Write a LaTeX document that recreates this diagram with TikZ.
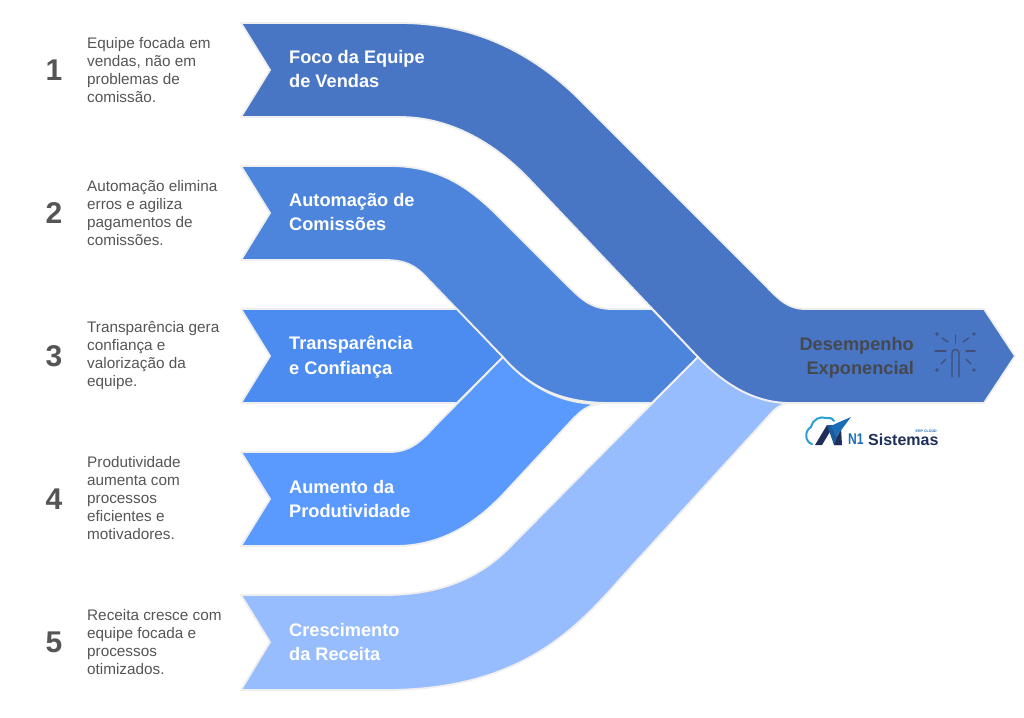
\documentclass[tikz,border=0pt]{standalone}
\usepackage{fontspec}
\setmainfont{Liberation Sans}
\definecolor{bandA}{HTML}{4976C4}
\definecolor{bandB}{HTML}{4E85DC}
\definecolor{bandC}{HTML}{4C8CF0}
\definecolor{bandD}{HTML}{5A9AFF}
\definecolor{bandE}{HTML}{97BDFF}
\definecolor{edgeline}{HTML}{EEEEEE}
\definecolor{inkgrey}{HTML}{555555}
\definecolor{darkink}{HTML}{45484F}
\definecolor{iconink}{HTML}{3F4F78}
\definecolor{logonavy}{HTML}{1D2F5A}
\definecolor{logoblue}{HTML}{1C6DB5}
\definecolor{logocyan}{HTML}{2A9FD8}
\tikzset{
  band/.style={draw=edgeline,line width=1.8pt,line join=round},
  numlabel/.style={anchor=center,inner sep=0pt,text=inkgrey,font=\fontsize{30}{32}\selectfont\bfseries},
  desc/.style={anchor=west,inner sep=0pt,align=left,text=inkgrey,font=\fontsize{15.3}{18}\selectfont},
  title/.style={anchor=west,inner sep=0pt,align=left,text=white,font=\fontsize{18.2}{24.2}\selectfont\bfseries},
  spark/.style={draw=iconink,line width=1.3pt,line cap=round},
  sparkdot/.style={fill=iconink,draw=none},
}
\begin{document}
\begin{tikzpicture}[x=1pt,y=-1pt]
\useasboundingbox (0,0) rectangle (1024,717);
% band 3
\fill[band,fill=bandC] (241,309) -- (457,309) -- (503,357) -- (457,403) -- (241,403) -- (270,356) -- cycle;
% band 4
\fill[band,fill=bandD] (241,452) -- (390,452) .. controls (412,452) and (424,438) .. (436,425) -- (503,357)
  .. controls (530,388) and (562,404) .. (600,404)
  .. controls (586,405) and (579,413) .. (572,420) -- (507,490)
  .. controls (475,525) and (440,546) .. (395,546) -- (241,546) -- (270,499) -- cycle;
% band 2
\fill[band,fill=bandB] (241,166) -- (390,166) .. controls (440,166) and (470,188) .. (500,218)
  -- (570,288) .. controls (585,303) and (595,309) .. (612,309) -- (652,309) -- (698,357) -- (652,403) -- (610,403)
  .. controls (562,403) and (530,388) .. (503,357) -- (427,278) .. controls (415,265) and (405,260) .. (385,260)
  -- (241,260) -- (270,213) -- cycle;
% band 5
\fill[band,fill=bandE] (241,595) -- (385,595) .. controls (440,595) and (480,578) .. (510,547) -- (698,357)
  .. controls (725,385) and (755,403) .. (790,403)
  .. controls (778,404) and (772,412) .. (765,420) -- (640,557)
  .. controls (590,610) and (540,690) .. (385,690) -- (241,690) -- (270,642) -- cycle;
% band 1
\fill[band,fill=bandA] (241,23) -- (400,23) .. controls (470,23) and (530,50) .. (580,100) -- (760,280)
  .. controls (775,295) and (785,309) .. (805,309) -- (984,309) -- (1015,356) -- (984,403) -- (790,403)
  .. controls (755,403) and (725,385) .. (698,357) -- (530,180)
  .. controls (495,143) and (450,117) .. (400,117) -- (241,117) -- (270,70) -- cycle;
% numbers
\node[numlabel] (n1) at (54,70) {1};
\node[numlabel] (n2) at (54,213) {2};
\node[numlabel] (n3) at (54,356) {3};
\node[numlabel] (n4) at (54,499) {4};
\node[numlabel] (n5) at (54,642) {5};
% descriptions
\node[desc] (d1) at (87,70) {Equipe focada em\\vendas, não em\\problemas de\\comissão.};
\node[desc] (d2) at (87,213) {Automação elimina\\erros e agiliza\\pagamentos de\\comissões.};
\node[desc] (d3) at (87,356) {Transparência gera\\confiança e\\valorização da\\equipe.};
\node[desc] (d4) at (87,498) {Produtividade\\aumenta com\\processos\\eficientes e\\motivadores.};
\node[desc] (d5) at (87,642) {Receita cresce com\\equipe focada e\\processos\\otimizados.};
% titles
\node[title] (t1) at (289,69) {Foco da Equipe\\de Vendas};
\node[title] (t2) at (289,212) {Automação de\\Comissões};
\node[title] (t3) at (289,357) {Transparência\\e Confiança};
\node[title] (t4) at (289,499) {Aumento da\\Produtividade};
\node[title] (t5) at (289,642) {Crescimento\\da Receita};
\node[title,anchor=east,align=right,text=darkink] (t6) at (914,358) {Desempenho\\Exponencial};
% sparkler icon
\draw[spark] (952,377) -- (952,353) arc[start angle=180,end angle=360,radius=3.5] -- (959,377);
\draw[spark] (955.5,335) -- (955.5,343);
\draw[spark] (942,338) -- (948,342);
\draw[spark] (969,338) -- (963,342);
\draw[spark] (935,351) -- (946,351);
\draw[spark] (966,351) -- (975,351);
\draw[spark] (941,364) -- (946,359);
\draw[spark] (971,364) -- (966,359);
\fill[sparkdot] (937,334) circle (1.8);
\fill[sparkdot] (974,334) circle (1.8);
\fill[sparkdot] (937,370) circle (1.8);
\fill[sparkdot] (974,370) circle (1.8);
% logo
\draw[logocyan,line width=2pt,line cap=round] (812,444) .. controls (805,442) and (804,431) .. (811,427)
  .. controls (813,419) and (820,416) .. (826,418) .. controls (829,417) and (832,418) .. (834,421);
\fill[logonavy] (815,445) -- (827,425) -- (834,425) -- (822,445) -- cycle;
\fill[logoblue!70!logonavy] (827,425) -- (834,425) -- (841,445) -- (834,445) -- cycle;
\fill[logonavy] (834,445) -- (841,428) -- (842,445) -- cycle;
\fill[logoblue] (836,437) -- (851,417) -- (837,423) -- (831,426) -- cycle;
\node[anchor=west,inner sep=0pt,text=logoblue,font=\fontsize{15.5}{16}\selectfont\bfseries] (logoa) at (848,439.5) {\scalebox{0.78}[1]{N1}};
\node[anchor=west,inner sep=0pt,text=logonavy,font=\fontsize{16}{18}\selectfont\bfseries] (logob) at (868,439.5) {Sistemas};
\node[anchor=east,inner sep=0pt,text=logoblue,font=\fontsize{3.6}{4}\selectfont\bfseries] (logoc) at (937,431) {ERP CLOUD};
\end{tikzpicture}
\end{document}
